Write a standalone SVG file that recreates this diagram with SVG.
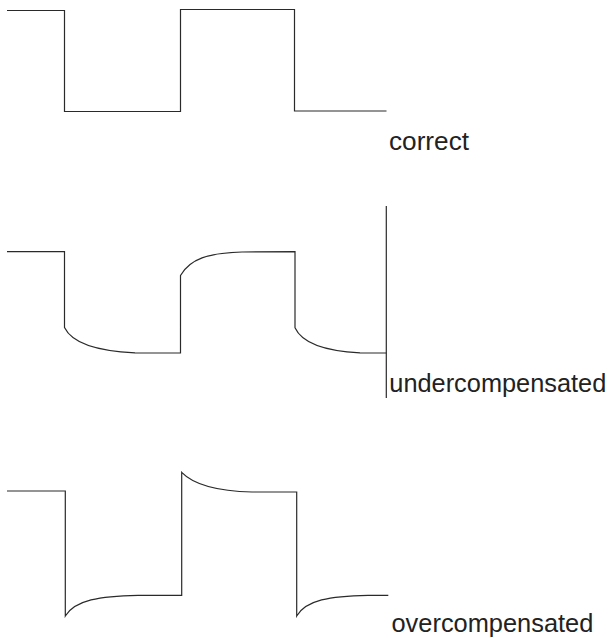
<svg xmlns="http://www.w3.org/2000/svg" width="609" height="638" viewBox="0 0 609 638">
<style>
.w{fill:none;stroke:#2a2a2a;stroke-width:1.2;stroke-linejoin:miter}
.t{font-family:"Liberation Sans",Arial,sans-serif;font-size:25px;fill:#222}
</style>
<rect width="609" height="638" fill="#fff"/>
<g id="correct">
<path class="w" d="M7,10.5 H64.5 V111.5 H180.5 V9.5 H294.5 V111 H386.5"/>
<text class="t" x="389" y="150" textLength="80" lengthAdjust="spacingAndGlyphs">correct</text>
</g>
<g id="undercompensated">
<path class="w" d="M7,251.7 H64.5 V327.5 C72,343 95,351 135,352.8 L180.5,353 V275.5 C190,259 208,253 242,252 L295,251.7 V327.7 C302,343 325,351 360,352.8 L386.5,353"/>
<line class="w" x1="386.3" y1="206" x2="386.3" y2="398"/>
<text class="t" x="389.3" y="391.7" textLength="217" lengthAdjust="spacingAndGlyphs">undercompensated</text>
</g>
<g id="overcompensated">
<path class="w" d="M7,491 H65.3 V616 C75,600 100,596 138,595.3 L181.7,595.3 V472.3 C192,483 215,491 252,492 L296.7,492 V616 C306,600 330,596 368,595.3 L388.3,595.3"/>
<text class="t" x="391.5" y="631.7" textLength="201.8" lengthAdjust="spacingAndGlyphs">overcompensated</text>
</g>
</svg>
